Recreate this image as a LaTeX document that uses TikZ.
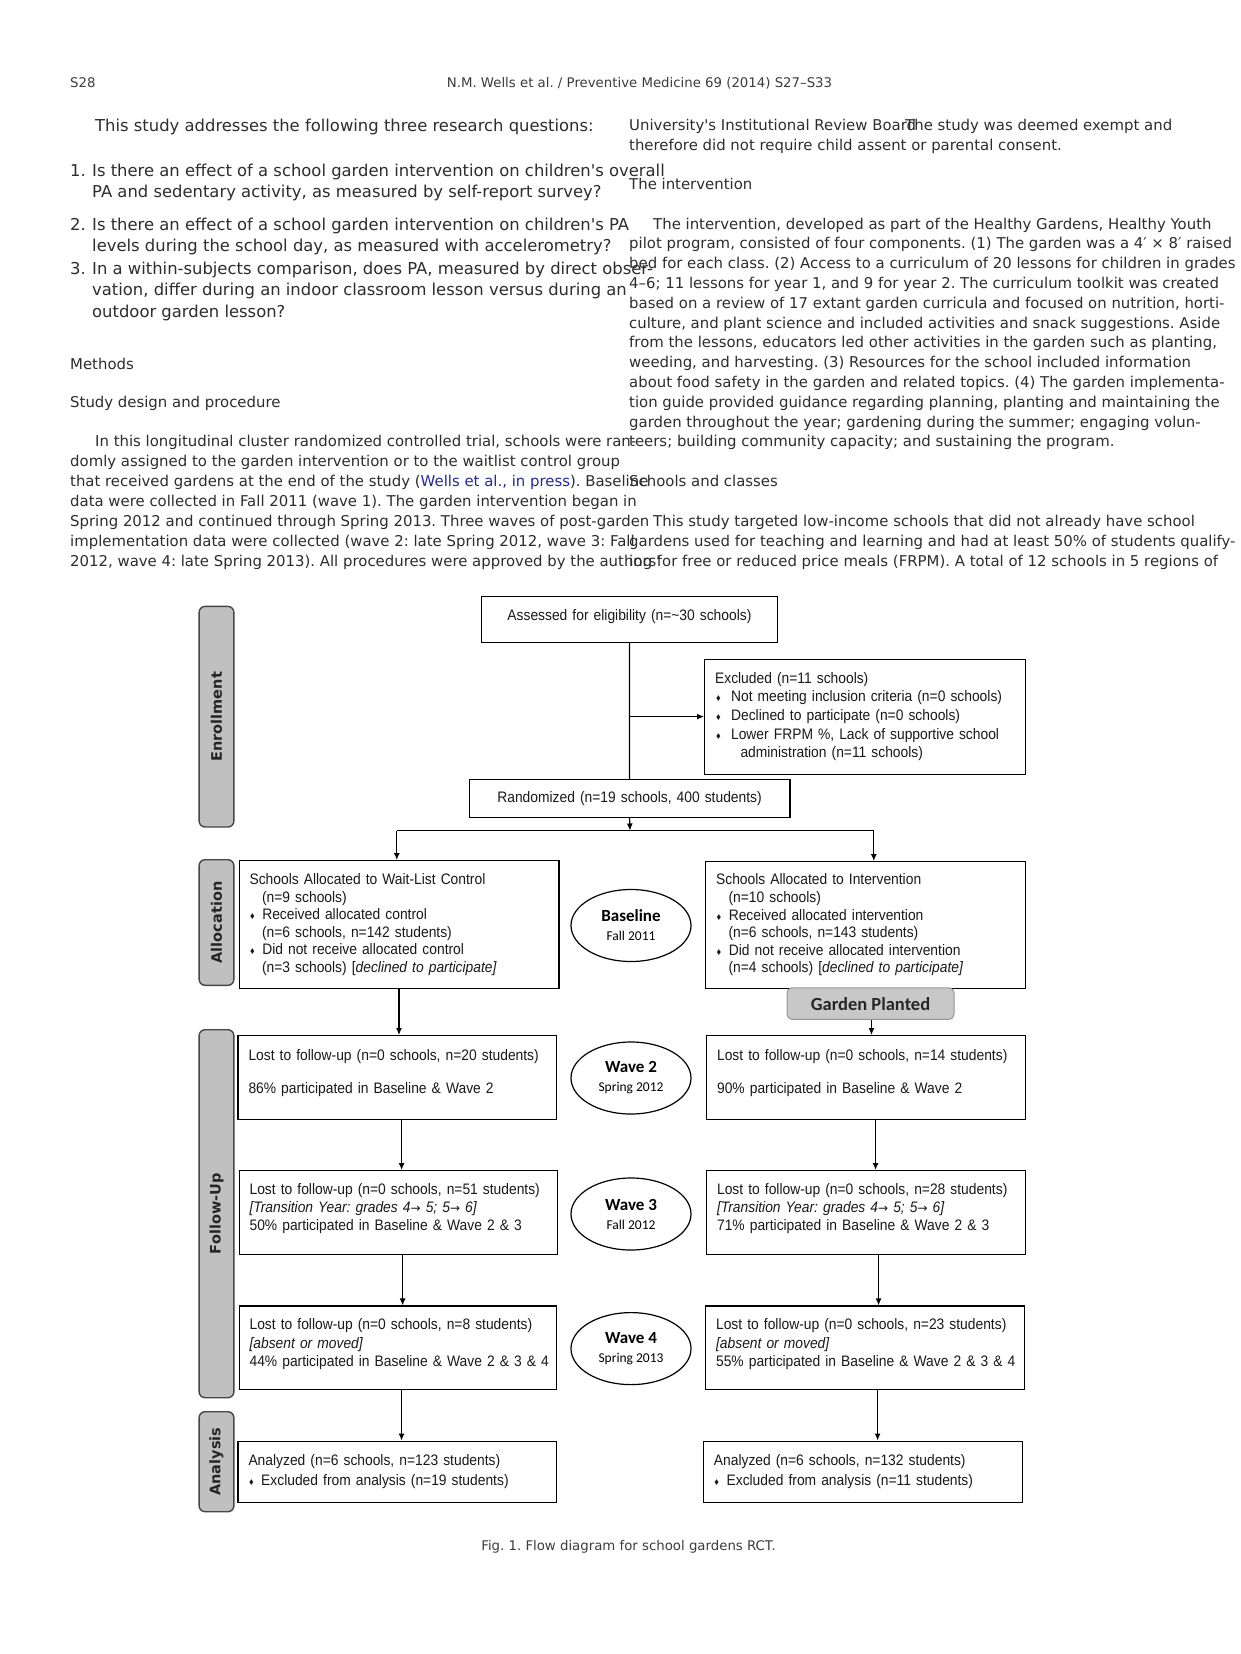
\documentclass[tikz,border=0pt]{standalone}
\usepackage{fontspec}
\setmainfont{DejaVu Sans}[Ligatures=TeXOff]
\newfontfamily\diagfont{Liberation Sans}[FakeStretch=0.91]
\newfontfamily\arrfont{DejaVu Sans}
\newfontfamily\carlfont{Carlito}
\newfontfamily\barfont{DejaVu Sans}
\usetikzlibrary{arrows.meta,shapes.geometric}
\definecolor{pagetext}{RGB}{45,45,45}
\definecolor{hdrtext}{RGB}{60,60,60}
\definecolor{linkblue}{RGB}{40,40,150}
\definecolor{barfill}{RGB}{192,192,192}
\definecolor{barline}{RGB}{70,70,70}
\definecolor{gardenfill}{RGB}{200,200,200}
\definecolor{gardenline}{RGB}{150,150,150}
\newcommand{\bulA}{\makebox[12.7pt][l]{\hspace{0.5pt}{\fontsize{10}{10}\selectfont ♦}}}
\newcommand{\bulB}{\makebox[16pt][l]{\hspace{1pt}{\fontsize{10}{10}\selectfont ♦}}}
\newcommand{\indA}{\hspace*{12.5pt}}
\newcommand{\rarr}{{\arrfont\fontsize{12}{12}\selectfont →}}
\newcommand{\dep}[1]{\rule[-#1]{0pt}{#1}}
\begin{document}
\frenchspacing
\begin{tikzpicture}[x=1pt,y=-1pt,
  hdr/.style={anchor=base west,inner sep=0pt,text=hdrtext,font=\fontsize{13.3}{16}\selectfont},
  bt/.style={anchor=base west,inner sep=0pt,text=pagetext,font=\fontsize{14.9}{19.9}\selectfont},
  qt/.style={anchor=base west,inner sep=0pt,text=pagetext,font=\fontsize{16.4}{21}\selectfont},
  box/.style={draw=black,line width=1.2pt,anchor=north west,inner xsep=10.5pt,inner ysep=0pt,
    align=left,font=\diagfont\fontsize{15.2}{17.6}\selectfont,text=black!90},
  cbox/.style={box,align=center},
  sidebar/.style={draw=barline,fill=barfill,line width=1.4pt,rounded corners=6pt,
    minimum width=34.8pt,inner sep=0pt},
  bartext/.style={rotate=90,inner sep=0pt,text=black!85,font=\barfont\bfseries\fontsize{14.5}{16}\selectfont},
  wave/.style={draw=black,line width=1.2pt,ellipse,minimum width=120pt,minimum height=72pt,
    inner sep=0pt,align=center},
  arr/.style={line width=1.2pt,-{Latex[length=7pt,width=6pt]}},
  ln/.style={line width=1.2pt}
]
\useasboundingbox (0,0) rectangle (1241,1654);
\fill[white] (0,0) rectangle (1241,1654);

% ---------- header ----------
\node[hdr] (pgnum) at (70,87) {S28};
\node[hdr,anchor=base] (journal) at (639.5,87) {N.M. Wells et al. / Preventive Medicine 69 (2014) S27–S33};

% ---------- left column ----------
\node[qt] (q0) at (95,131.5) {This study addresses the following three research questions:};
\node[qt] (q1n) at (70,176) {1.};
\node[qt] (q1a) at (92,176) {Is there an effect of a school garden intervention on children's overall};
\node[qt] (q1b) at (92,197) {PA and sedentary activity, as measured by self-report survey?};
\node[qt] (q2n) at (70,230) {2.};
\node[qt] (q2a) at (92,230) {Is there an effect of a school garden intervention on children's PA};
\node[qt] (q2b) at (92,251.5) {levels during the school day, as measured with accelerometry?};
\node[qt] (q3n) at (70,274) {3.};
\node[qt] (q3a) at (92,274) {In a within-subjects comparison, does PA, measured by direct obser-};
\node[qt] (q3b) at (92,295.5) {vation, differ during an indoor classroom lesson versus during an};
\node[qt] (q3c) at (92,317) {outdoor garden lesson?};

\node[bt] (methods) at (70,369.5) {Methods};
\node[bt] (studyd) at (70,407.5) {Study design and procedure};
\node[bt] (p1) at (95,446.5) {In this longitudinal cluster randomized controlled trial, schools were ran-};
\node[bt] (p2) at (70,466.5) {domly assigned to the garden intervention or to the waitlist control group};
\node[bt] (p3) at (70,486.6) {that received gardens at the end of the study (\textcolor{linkblue}{Wells et al., in press}). Baseline};
\node[bt] (p4) at (70,506.6) {data were collected in Fall 2011 (wave 1). The garden intervention began in};
\node[bt] (p5) at (70,526.7) {Spring 2012 and continued through Spring 2013. Three waves of post-garden};
\node[bt] (p6) at (70,546.7) {implementation data were collected (wave 2: late Spring 2012, wave 3: Fall};
\node[bt] (p7) at (70,566.8) {2012, wave 4: late Spring 2013). All procedures were approved by the authors'};

% ---------- right column ----------
\node[bt] (r1a) at (629,130) {University's Institutional Review Board};
\node[bt] (r1b) at (905,130) {The study was deemed exempt and};
\node[bt] (r2) at (629,150) {therefore did not require child assent or parental consent.};
\node[bt] (inth) at (629,189) {The intervention};
\node[bt] (i1) at (653,229) {The intervention, developed as part of the Healthy Gardens, Healthy Youth};
\node[bt] (i2) at (629,248.8) {pilot program, consisted of four components. (1) The garden was a 4′ × 8′ raised};
\node[bt] (i3) at (629,268.6) {bed for each class. (2) Access to a curriculum of 20 lessons for children in grades};
\node[bt] (i4) at (629,288.4) {4–6; 11 lessons for year 1, and 9 for year 2. The curriculum toolkit was created};
\node[bt] (i5) at (629,308.2) {based on a review of 17 extant garden curricula and focused on nutrition, horti-};
\node[bt] (i6) at (629,328) {culture, and plant science and included activities and snack suggestions. Aside};
\node[bt] (i7) at (629,347.8) {from the lessons, educators led other activities in the garden such as planting,};
\node[bt] (i8) at (629,367.6) {weeding, and harvesting. (3) Resources for the school included information};
\node[bt] (i9) at (629,387.4) {about food safety in the garden and related topics. (4) The garden implementa-};
\node[bt] (i10) at (629,407.2) {tion guide provided guidance regarding planning, planting and maintaining the};
\node[bt] (i11) at (629,427) {garden throughout the year; gardening during the summer; engaging volun-};
\node[bt] (i12) at (629,446.8) {teers; building community capacity; and sustaining the program.};
\node[bt] (schh) at (629,486.6) {Schools and classes};
\node[bt] (s1) at (653,526.7) {This study targeted low-income schools that did not already have school};
\node[bt] (s2) at (629,546.7) {gardens used for teaching and learning and had at least 50\% of students qualify-};
\node[bt] (s3) at (629,566.8) {ing for free or reduced price meals (FRPM). A total of 12 schools in 5 regions of};

% ---------- side bars ----------
\node[sidebar,anchor=north west,minimum height=220.6pt] (barEnr) at (198.4,605.7) {};
\node[bartext] (tEnr) at (barEnr.center) {Enrollment};
\node[sidebar,anchor=north west,minimum height=125.6pt] (barAll) at (198.4,859) {};
\node[bartext] (tAll) at (barAll.center) {Allocation};
\node[sidebar,anchor=north west,minimum height=368pt] (barFol) at (198.4,1029) {};
\node[bartext] (tFol) at (barFol.center) {Follow-Up};
\node[sidebar,anchor=north west,minimum height=100pt] (barAna) at (198.4,1411) {};
\node[bartext] (tAna) at (barAna.center) {Analysis};

% ---------- enrollment ----------
\node[cbox,text width=274.7pt,minimum height=45.6pt] (assess) at (481,596) {Assessed for eligibility (n=\textasciitilde30 schools)\dep{9.5pt}};
\node[box,text width=299.7pt,minimum height=115pt,font=\diagfont\fontsize{15.2}{18.7}\selectfont] (excl) at (704,658.5)
 {Excluded (n=11 schools)\\
  \bulB Not meeting inclusion criteria (n=0 schools)\\
  \bulB Declined to participate (n=0 schools)\\
  \bulB Lower FRPM \%, Lack of supportive school\\
  \hspace*{25.4pt}administration (n=11 schools)};
\node[cbox,text width=299.9pt,minimum height=38pt] (rand) at (468.5,778.8) {Randomized (n=19 schools, 400 students)};

% ---------- allocation ----------
\node[box,text width=298.8pt,minimum height=127.8pt] (ctrl) at (238.5,860)
 {Schools Allocated to Wait-List Control\\
  \indA(n=9 schools)\\
  \bulA Received allocated control\\
  \indA(n=6 schools, n=142 students)\\
  \bulA Did not receive allocated control\\
  \indA(n=3 schools) [\textit{declined to participate]}};
\node[box,text width=298.7pt,minimum height=126.8pt] (intv) at (705,861)
 {Schools Allocated to Intervention\\
  \indA(n=10 schools)\\
  \bulA Received allocated intervention\\
  \indA(n=6 schools, n=143 students)\\
  \bulA Did not receive allocated intervention\\
  \indA(n=4 schools) [\textit{declined to participate]}};
\node[wave] (wB) at (631,925.5) {{\carlfont\bfseries\fontsize{17}{20}\selectfont Baseline}\\[7pt]{\carlfont\fontsize{13.5}{15}\selectfont Fall 2011}};
\node[draw=gardenline,fill=gardenfill,line width=1pt,rounded corners=5pt,minimum width=167pt,minimum height=31.6pt,
  inner sep=0pt,font=\carlfont\bfseries\fontsize{18.5}{20}\selectfont,text=black!85] (garden) at (870.5,1003.6) {Garden Planted};

% ---------- follow-up ----------
\node[box,text width=297.6pt,minimum height=83.6pt] (w2L) at (237.4,1035)
 {Lost to follow-up (n=0 schools, n=20 students)\\[15.4pt]
  86\% participated in Baseline \& Wave 2\dep{11pt}};
\node[box,text width=297.7pt,minimum height=83.6pt] (w2R) at (706,1035)
 {Lost to follow-up (n=0 schools, n=14 students)\\[15.4pt]
  90\% participated in Baseline \& Wave 2\dep{11pt}};
\node[wave] (wv2) at (631,1078) {{\carlfont\bfseries\fontsize{17}{20}\selectfont Wave 2}\\[7pt]{\carlfont\fontsize{13.5}{15}\selectfont Spring 2012}};

\node[box,text width=297.5pt,minimum height=83.7pt,font=\diagfont\fontsize{15.2}{18}\selectfont] (w3L) at (238.5,1170)
 {Lost to follow-up (n=0 schools, n=51 students)\\
  \textit{[Transition Year: grades 4\rarr\ 5; 5\rarr\ 6]}\\
  50\% participated in Baseline \& Wave 2 \& 3\dep{11.4pt}};
\node[box,text width=297.7pt,minimum height=83.7pt,font=\diagfont\fontsize{15.2}{18}\selectfont] (w3R) at (706,1170)
 {Lost to follow-up (n=0 schools, n=28 students)\\
  \textit{[Transition Year: grades 4\rarr\ 5; 5\rarr\ 6]}\\
  71\% participated in Baseline \& Wave 2 \& 3\dep{11.4pt}};
\node[wave] (wv3) at (631,1214) {{\carlfont\bfseries\fontsize{17}{20}\selectfont Wave 3}\\[7pt]{\carlfont\fontsize{13.5}{15}\selectfont Fall 2012}};

\node[box,text width=296.5pt,minimum height=83.4pt,font=\diagfont\fontsize{15.2}{18.5}\selectfont] (w4L) at (238.5,1305.4)
 {\mbox{Lost to follow-up (n=0 schools, n=8 students)}\\
  \textit{[absent or moved]}\\
  \mbox{44\% participated in Baseline \& Wave 2 \& 3 \& 4}\dep{10pt}};
\node[box,text width=297.6pt,minimum height=83.4pt,font=\diagfont\fontsize{15.2}{18.5}\selectfont] (w4R) at (705,1305.4)
 {\mbox{Lost to follow-up (n=0 schools, n=23 students)}\\
  \textit{[absent or moved]}\\
  \mbox{55\% participated in Baseline \& Wave 2 \& 3 \& 4}\dep{10pt}};
\node[wave] (wv4) at (631,1348.6) {{\carlfont\bfseries\fontsize{17}{20}\selectfont Wave 4}\\[7pt]{\carlfont\fontsize{13.5}{15}\selectfont Spring 2013}};

% ---------- analysis ----------
\node[box,text width=297.6pt,minimum height=61.2pt,font=\diagfont\fontsize{15.2}{20}\selectfont] (anL) at (237.4,1440.5)
 {Analyzed (n=6 schools, n=123 students)\\
  \bulA Excluded from analysis (n=19 students)};
\node[box,text width=297.7pt,minimum height=61.2pt,font=\diagfont\fontsize{15.2}{20}\selectfont] (anR) at (702.8,1440.5)
 {Analyzed (n=6 schools, n=132 students)\\
  \bulA Excluded from analysis (n=11 students)};

% ---------- connectors ----------
\draw[ln] (assess.south) -- (rand.north);
\draw[arr] (assess.south |- excl.west) -- (excl.west);
\coordinate (jM) at (630,830.5);
\coordinate (jL) at (396.8,830.5);
\coordinate (jR) at (873.8,830.5);
\draw[arr] (rand.south) -- (jM);
\draw[ln] (jL) -- (jR);
\draw[arr] (jL) -- (jL |- ctrl.north);
\draw[arr] (jR) -- (jR |- intv.north);
\draw[arr] (ctrl.south) -- (ctrl.south |- w2L.north);
\draw[arr] ([xshift=1pt]garden.south) -- ([xshift=1pt]garden.south |- w2R.north);
\draw[arr] ([xshift=4.3pt]w2L.south) -- ([xshift=4.3pt]w2L.south |- w3L.north);
\draw[arr] ([xshift=9.6pt]w2R.south) -- ([xshift=9.6pt]w2R.south |- w3R.north);
\draw[arr] ([xshift=4.3pt]w3L.south) -- ([xshift=4.3pt]w3L.south |- w4L.north);
\draw[arr] ([xshift=12.6pt]w3R.south) -- ([xshift=12.6pt]w3R.south |- w4R.north);
\draw[arr] ([xshift=3.7pt]w4L.south) -- ([xshift=3.7pt]w4L.south |- anL.north);
\draw[arr] ([xshift=12.7pt]w4R.south) -- ([xshift=12.7pt]w4R.south |- anR.north);

% ---------- caption ----------
\node[hdr,anchor=base] (cap) at (628.5,1550) {Fig. 1. Flow diagram for school gardens RCT.};
\end{tikzpicture}
\end{document}
